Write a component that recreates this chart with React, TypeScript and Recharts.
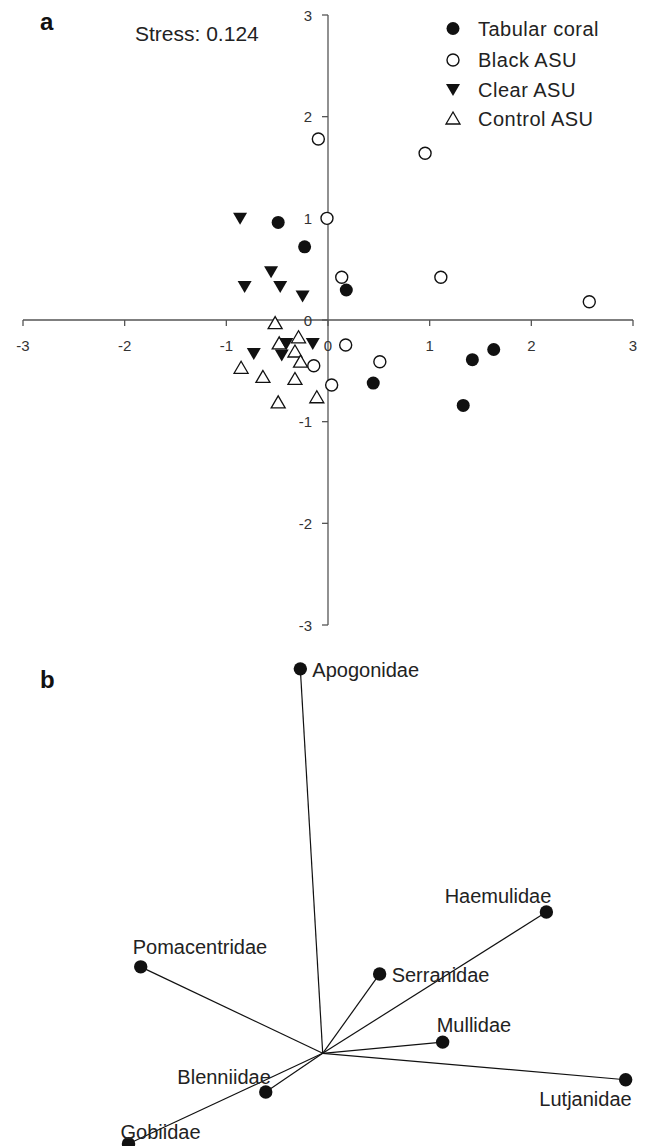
import React from "react";
import {
  ScatterChart,
  Scatter,
  XAxis,
  YAxis,
  ReferenceLine,
  ReferenceDot,
  Legend,
} from "recharts";

const FONT = '"Liberation Sans", Arial, Helvetica, sans-serif';
const AXIS = "#555";
const INK = "#111";

// panel a – ordination scores per treatment
const tabularCoral = [
  { x: -0.49, y: 0.96 },
  { x: -0.23, y: 0.72 },
  { x: 0.18, y: 0.295 },
  { x: 0.445, y: -0.62 },
  { x: 1.42, y: -0.39 },
  { x: 1.63, y: -0.29 },
  { x: 1.33, y: -0.84 },
];
const blackAsu = [
  { x: -0.095, y: 1.78 },
  { x: 0.955, y: 1.64 },
  { x: -0.01, y: 1.0 },
  { x: 0.135, y: 0.42 },
  { x: 1.11, y: 0.42 },
  { x: 2.57, y: 0.18 },
  { x: 0.174, y: -0.246 },
  { x: 0.51, y: -0.41 },
  { x: -0.14, y: -0.45 },
  { x: 0.036, y: -0.64 },
];
const clearAsu = [
  { x: -0.865, y: 1.0 },
  { x: -0.56, y: 0.475 },
  { x: -0.82, y: 0.33 },
  { x: -0.47, y: 0.33 },
  { x: -0.25, y: 0.235 },
  { x: -0.15, y: -0.23 },
  { x: -0.41, y: -0.23 },
  { x: -0.73, y: -0.33 },
  { x: -0.455, y: -0.345 },
];
const controlAsu = [
  { x: -0.52, y: -0.03 },
  { x: -0.29, y: -0.17 },
  { x: -0.48, y: -0.23 },
  { x: -0.325, y: -0.31 },
  { x: -0.27, y: -0.41 },
  { x: -0.855, y: -0.47 },
  { x: -0.64, y: -0.56 },
  { x: -0.325, y: -0.58 },
  { x: -0.49, y: -0.81 },
  { x: -0.11, y: -0.76 },
];
const axisTicks = [-3, -2, -1, 0, 1, 2, 3];
const stressText = "Stress: 0.124";

// panel b – family vectors
const families = [
  "Apogonidae",
  "Haemulidae",
  "Pomacentridae",
  "Serranidae",
  "Mullidae",
  "Lutjanidae",
  "Blenniidae",
  "Gobiidae",
];
const vectorX = [-0.22, 2.2, -1.79, 0.56, 1.18, 2.98, -0.56, -1.91];
const vectorY = [3.78, 1.39, 0.85, 0.78, 0.11, -0.26, -0.38, -0.89];

const vectors = families.map((name, i) => ({ name, x: vectorX[i], y: vectorY[i] }));

// where each family label sits relative to its dot
const labelPlacement: Record<string, { dx: number; dy: number; anchor: "start" | "end" }> = {
  Apogonidae: { dx: 12, dy: 8, anchor: "start" },
  Haemulidae: { dx: 5, dy: -9, anchor: "end" },
  Pomacentridae: { dx: -8, dy: -13, anchor: "start" },
  Serranidae: { dx: 12, dy: 8, anchor: "start" },
  Mullidae: { dx: -6, dy: -10, anchor: "start" },
  Lutjanidae: { dx: 6, dy: 26, anchor: "end" },
  Blenniidae: { dx: 5, dy: -8, anchor: "end" },
  Gobiidae: { dx: -8, dy: -5, anchor: "start" },
};

const FilledCircle = (p: any) => <circle cx={p.cx} cy={p.cy} r={6.5} fill={INK} />;
const OpenCircle = (p: any) => (
  <circle cx={p.cx} cy={p.cy} r={6} fill="#fff" stroke={INK} strokeWidth={1.4} />
);
const TriangleDown = (p: any) => (
  <polygon
    points={`${p.cx - 7},${p.cy - 5.5} ${p.cx + 7},${p.cy - 5.5} ${p.cx},${p.cy + 6.5}`}
    fill={INK}
  />
);
const TriangleUp = (p: any) => (
  <polygon
    points={`${p.cx},${p.cy - 6.5} ${p.cx - 7},${p.cy + 5.5} ${p.cx + 7},${p.cy + 5.5}`}
    fill="#fff"
    stroke={INK}
    strokeWidth={1.3}
  />
);

const legendItems = [
  { name: "Tabular coral", Shape: FilledCircle },
  { name: "Black ASU", Shape: OpenCircle },
  { name: "Clear ASU", Shape: TriangleDown },
  { name: "Control ASU", Shape: TriangleUp },
];
const legendRows = [28.5, 60, 89.5, 118.5];

const LegendBox = () => (
  <svg width={206} height={135} style={{ display: "block" }}>
    {legendItems.map(({ name, Shape }, i) => (
      <g key={name}>
        <Shape cx={13} cy={legendRows[i]} />
        <text
          x={38}
          y={legendRows[i] + 7}
          fontSize={20}
          letterSpacing={0.5}
          fill="#222"
          fontFamily={FONT}
        >
          {name}
        </text>
      </g>
    ))}
  </svg>
);

const XTick = (p: any) => (
  <g>
    <line x1={p.cx} y1={p.cy} x2={p.cx} y2={p.cy + 6} stroke={AXIS} strokeWidth={1.3} />
    <text x={p.cx} y={p.cy + 31} textAnchor="middle" fontSize={15} fill="#333" fontFamily={FONT}>
      {p.value}
    </text>
  </g>
);

const YTick = (p: any) => (
  <g>
    <line x1={p.cx - 6} y1={p.cy} x2={p.cx} y2={p.cy} stroke={AXIS} strokeWidth={1.3} />
    <text x={p.cx - 16} y={p.cy + 5.5} textAnchor="end" fontSize={15} fill="#333" fontFamily={FONT}>
      {p.value}
    </text>
  </g>
);

const FamilyDot = (p: any) => {
  const name = p.payload?.name as string;
  const pl = labelPlacement[name];
  return (
    <g>
      <circle cx={p.cx} cy={p.cy} r={6.7} fill={INK} />
      <text
        x={p.cx + pl.dx}
        y={p.cy + pl.dy}
        textAnchor={pl.anchor}
        fontSize={20}
        fill="#222"
        fontFamily={FONT}
      >
        {name}
      </text>
    </g>
  );
};

const OrdinationPanel = () => (
  <ScatterChart width={646} height={640} margin={{ top: 15, right: 13, bottom: 15, left: 23 }}>
    <XAxis type="number" dataKey="x" domain={[-3, 3]} hide />
    <YAxis type="number" dataKey="y" domain={[-3, 3]} hide />
    <ReferenceLine y={0} stroke={AXIS} strokeWidth={1.3} />
    <ReferenceLine x={0} stroke={AXIS} strokeWidth={1.3} />
    {axisTicks.map((t) => (
      <ReferenceDot
        key={`xt${t}`}
        x={t}
        y={0}
        ifOverflow="visible"
        shape={(p: any) => <XTick {...p} value={t} />}
      />
    ))}
    {axisTicks.map((t) => (
      <ReferenceDot
        key={`yt${t}`}
        x={0}
        y={t}
        ifOverflow="visible"
        shape={(p: any) => <YTick {...p} value={t} />}
      />
    ))}
    <Scatter name="Control ASU" data={controlAsu} shape={TriangleUp} isAnimationActive={false} />
    <Scatter name="Black ASU" data={blackAsu} shape={OpenCircle} isAnimationActive={false} />
    <Scatter name="Clear ASU" data={clearAsu} shape={TriangleDown} isAnimationActive={false} />
    <Scatter name="Tabular coral" data={tabularCoral} shape={FilledCircle} isAnimationActive={false} />
    <Legend
      layout="vertical"
      align="center"
      verticalAlign="middle"
      wrapperStyle={{ top: 0, left: 440, width: 206 }}
      content={() => <LegendBox />}
    />
  </ScatterChart>
);

const VectorPanel = () => (
  <ScatterChart width={646} height={530} margin={{ top: 6.5, right: 18.3, bottom: 15, left: 17.7 }}>
    <XAxis type="number" dataKey="x" domain={[-3, 3]} hide />
    <YAxis type="number" dataKey="y" domain={[-1, 4]} hide />
    {vectors.map((v) => (
      <ReferenceLine
        key={v.name}
        segment={[
          { x: 0, y: 0 },
          { x: v.x, y: v.y },
        ]}
        stroke={INK}
        strokeWidth={1.2}
        ifOverflow="visible"
      />
    ))}
    <Scatter data={vectors} shape={FamilyDot} isAnimationActive={false} />
  </ScatterChart>
);

export default function App() {
  return (
    <div
      style={{
        position: "fixed",
        left: 0,
        top: 0,
        width: 646,
        height: 1146,
        overflow: "hidden",
        background: "#fff",
        fontFamily: FONT,
      }}
    >
      <div style={{ position: "absolute", left: 0, top: 0 }}>
        <OrdinationPanel />
      </div>
      <div style={{ position: "absolute", left: 0, top: 640 }}>
        <VectorPanel />
      </div>
      <svg
        width={646}
        height={1146}
        style={{ position: "absolute", left: 0, top: 0, pointerEvents: "none" }}
      >
        <text x={40} y={30} fontSize={24} fontWeight="bold" fill={INK} fontFamily={FONT}>
          a
        </text>
        <text x={135} y={41} fontSize={21} fill="#222" fontFamily={FONT}>
          {stressText}
        </text>
        <text x={40} y={688} fontSize={24} fontWeight="bold" fill={INK} fontFamily={FONT}>
          b
        </text>
      </svg>
    </div>
  );
}
